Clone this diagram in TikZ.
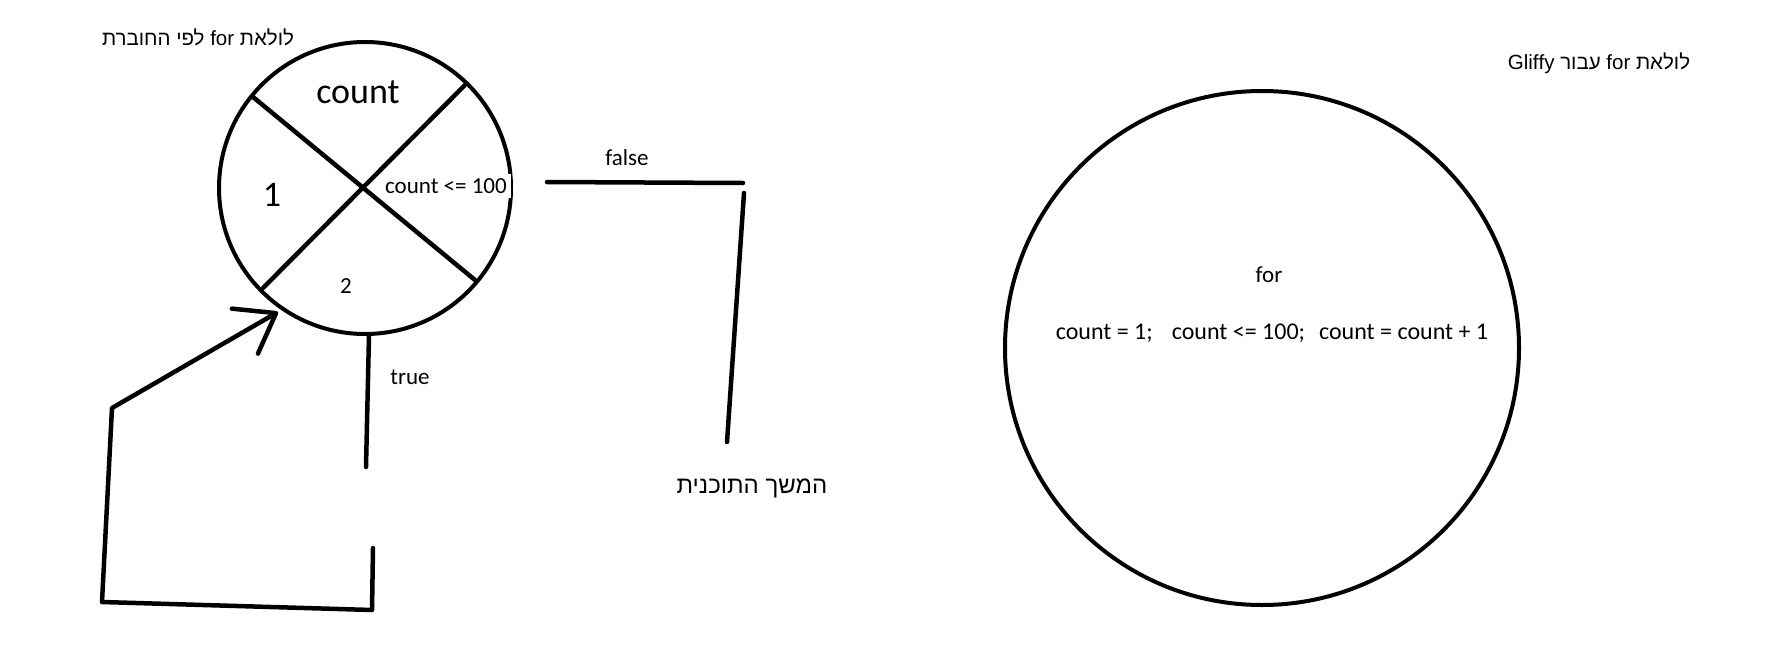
\documentclass[tikz,border=0pt]{standalone}
\usepackage{fontspec}
\setmainfont{Carlito}
\newfontfamily\hebfont[Script=Hebrew]{Liberation Sans}
\TeXXeTstate=1
\usetikzlibrary{arrows.meta}

\begin{document}
\begin{tikzpicture}[x=1pt, y=-1pt,
    pen/.style={line width=4.5pt, line cap=round, line join=round},
    small text/.style={font=\fontsize{23}{28}\selectfont, inner sep=0pt},
    big text/.style={font=\fontsize{36}{42}\selectfont, inner sep=0pt},
    heb text/.style={font=\fontsize{20.5}{24}\selectfont\hebfont, inner sep=0pt}]
    \useasboundingbox (0,0) rectangle (1789,648);

    % the title above the left circle
    \node[heb text] (titleA) at (198,37) {\beginR לולאת \beginL for\endL{} לפי החוברת\endR};

    % the circle of the loop (left)
    \node[draw, circle, line width=4pt, minimum size=292pt, inner sep=0pt] (loopA) at (365,188) {};
    % the cross in the left circle
    \draw[pen] (253,97) -- (475,280);
    \draw[pen] (465,85) -- (263,288);

    % the four parts of the loop
    \node[big text] (countA) at (358,92) {count};
    \node[big text] (initA) at (272,195) {1};
    \node[small text, fill=white, inner sep=4pt] (condA) at (446,186) {count <= 100};
    \node[small text] (stepA) at (346,286) {2};

    % the false branch -> rest of the program
    \coordinate (falseA) at (547,182);
    \coordinate (falseB) at (743,183);
    \coordinate (nextA) at (744,193);
    \coordinate (nextB) at (727,442);
    \draw[pen] (falseA) -- (falseB);
    \draw[pen] (nextA) -- (nextB);
    \node[small text] (falseL) at (627,158) {false};
    \node[heb text, font=\fontsize{24}{28}\selectfont\hebfont] (nextL) at (752,488) {\beginR המשך התוכנית\endR};

    % the true branch below the circle
    \coordinate (trueA) at (369,335);
    \coordinate (trueB) at (366,467);
    \draw[pen] (trueA) -- (trueB);
    \node[small text] (trueL) at (410,377) {true};

    % the way back to the circle
    \coordinate (backA) at (373,548);
    \coordinate (backB) at (372,610);
    \coordinate (backC) at (102,602);
    \coordinate (backD) at (112,408);
    \coordinate (backE) at (278,312);
    \draw[pen, -{Straight Barb[length=36pt, width=52pt, round]}]
        (backA) -- (backB) -- (backC) -- (backD) -- (backE);

    % the title above the right circle
    \node[heb text] (titleB) at (1599,63) {\beginR לולאת \beginL for\endL{} עבור \beginL Gliffy\endL\endR};

    % the circle of the loop (right)
    \node[draw, circle, line width=4pt, minimum size=514pt, inner sep=0pt] (loopB) at (1262,348) {};
    \node[small text] (forB) at (1269,275) {for};
    \node[small text, font=\fontsize{24}{28}\selectfont] (headB) at (1272,333)
        {count = 1;\hspace{19pt}count <= 100;\hspace{14pt}count = count + 1};
\end{tikzpicture}
\end{document}
